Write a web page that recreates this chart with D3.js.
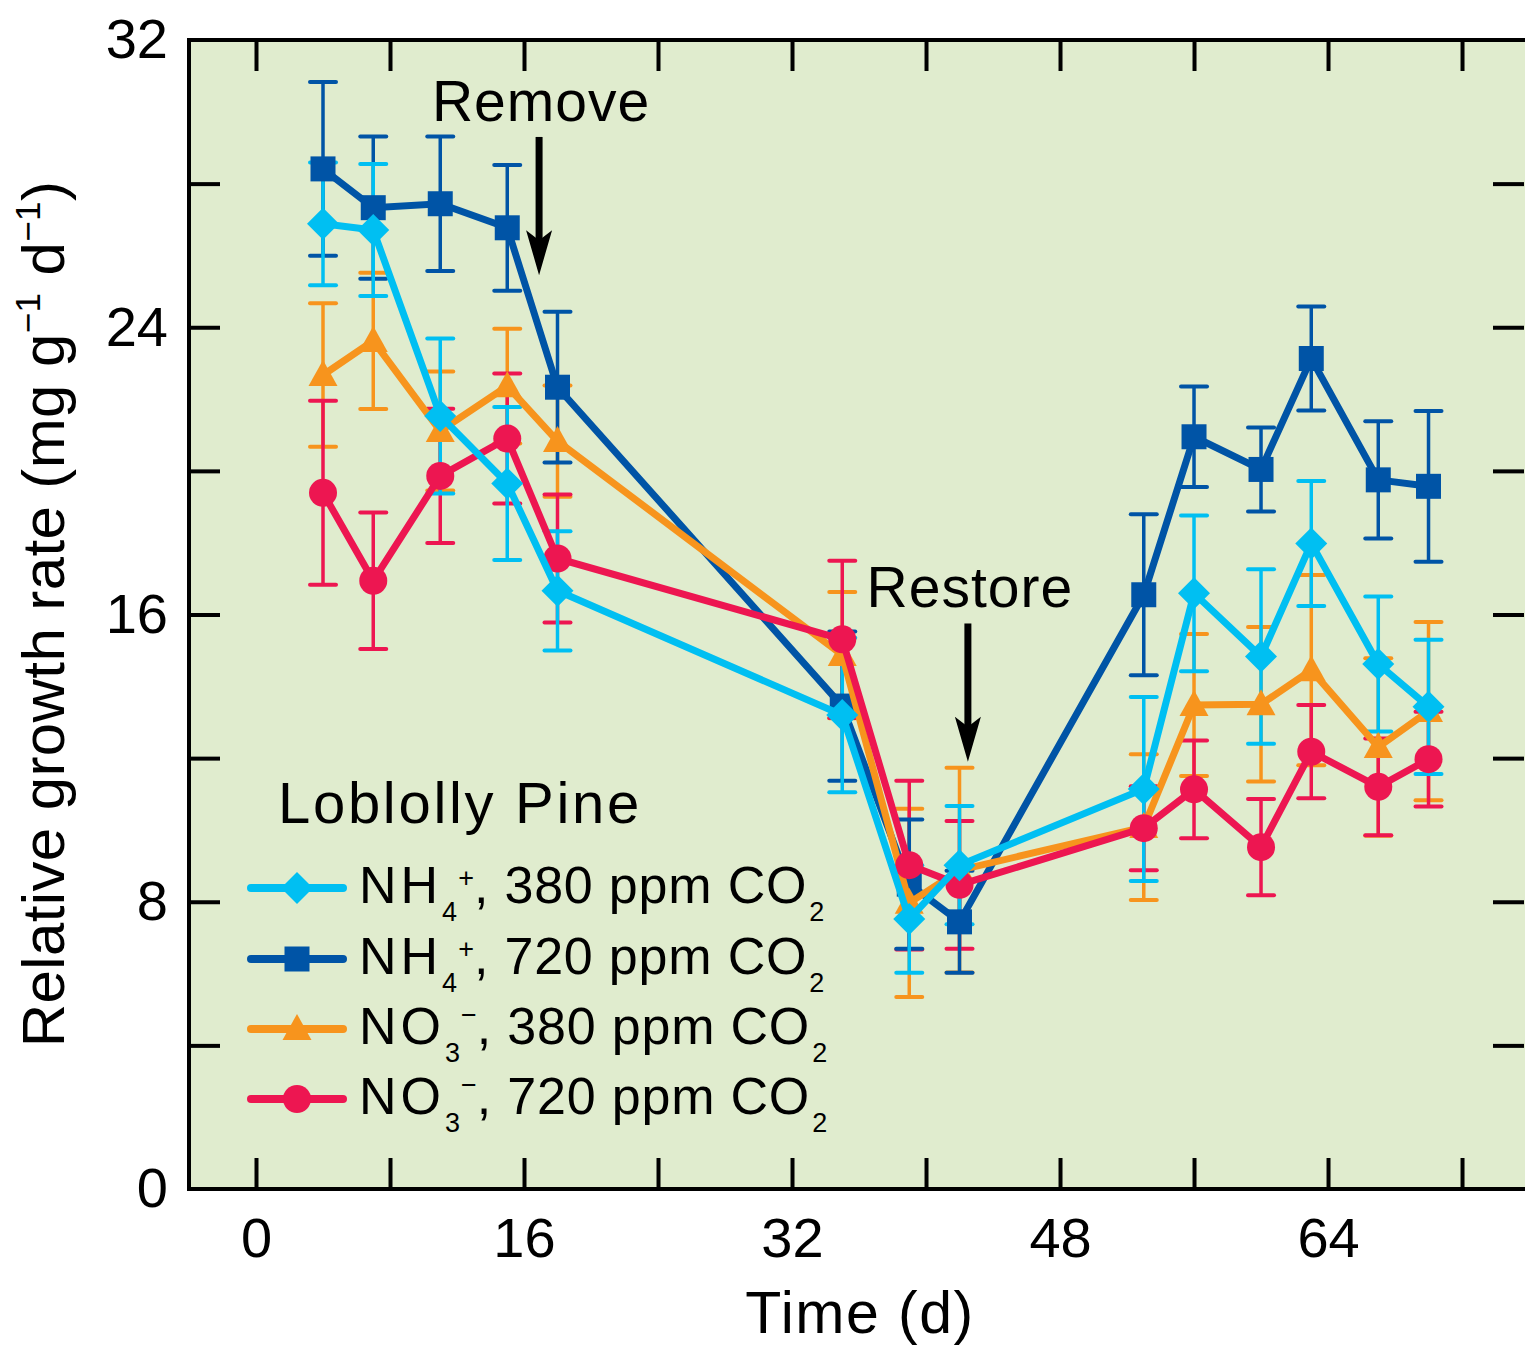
<!DOCTYPE html>
<html>
<head>
<meta charset="utf-8">
<script src="https://cdn.jsdelivr.net/npm/d3@7"></script>
<style>
  html, body { margin: 0; padding: 0; background: #ffffff; }
  svg { display: block; }
  text { font-family: "Liberation Sans", Arial, Helvetica, sans-serif; fill: #000; }
</style>
</head>
<body>
<svg id="chart" width="1525" height="1348"></svg>
<script>
// Sampling days (d)
const days = [4, 7, 11, 15, 18, 35, 39, 42, 53, 56, 60, 63, 67, 70];

// Relative growth rate (mg g-1 d-1), mean and error for each treatment
const nh4Ambient    = [26.88, 26.71, 21.53, 19.65, 16.66, 13.20, 7.52, 9.02, 11.14, 16.59, 14.83, 17.98, 14.62, 13.43];
const nh4AmbientErr = [1.71, 1.84, 2.16, 2.13, 1.66, 2.15, 1.50, 1.65, 2.56, 2.17, 2.43, 1.74, 1.88, 1.87];

const nh4Elevated    = [28.41, 27.33, 27.44, 26.77, 22.33, 13.45, 8.49, 7.44, 16.55, 20.95, 20.04, 23.13, 19.75, 19.57];
const nh4ElevatedErr = [2.42, 1.98, 1.87, 1.75, 2.10, 2.08, 1.80, 1.42, 2.24, 1.40, 1.17, 1.45, 1.63, 2.10];

const no3Ambient    = [22.67, 23.62, 21.11, 22.36, 20.83, 14.87, 7.97, 8.88, 10.08, 13.48, 13.50, 14.45, 12.31, 13.31];
const no3AmbientErr = [2.00, 1.90, 1.66, 1.60, 1.55, 1.76, 2.62, 2.85, 2.03, 1.98, 2.15, 2.65, 2.47, 2.48];

const no3Elevated    = [19.39, 16.94, 19.86, 20.90, 17.56, 15.31, 9.02, 8.47, 10.05, 11.13, 9.52, 12.18, 11.20, 11.97];
const no3ElevatedErr = [2.56, 1.90, 1.87, 1.81, 1.78, 2.19, 2.35, 1.78, 1.17, 1.36, 1.34, 1.30, 1.35, 1.32];

// Axis ticks
const xTicks = [0, 8, 16, 24, 32, 40, 48, 56, 64, 72];
const xTickLabels = [0, 16, 32, 48, 64];
const yTicks = [0, 4, 8, 12, 16, 20, 24, 28, 32];
const yTickLabels = [0, 8, 16, 24, 32];

// Treatment annotations: day, arrow start and arrow tip (growth-rate units)
const annotationLabels = ["Remove", "Restore"];
const annotationDays = [16.9, 42.5];
const annotationFrom = [29.3, 15.75];
const annotationTo = [25.45, 11.9];

const chartTitle = "Loblolly Pine";

const series = [
  { key: "nh4e", ion: "NH", sub: "4", sup: "+", co2: "720", values: nh4Elevated, errors: nh4ElevatedErr, color: "#0054a6", marker: "square" },
  { key: "no3a", ion: "NO", sub: "3", sup: "\u2212", co2: "380", values: no3Ambient, errors: no3AmbientErr, color: "#f7941d", marker: "triangle" },
  { key: "no3e", ion: "NO", sub: "3", sup: "\u2212", co2: "720", values: no3Elevated, errors: no3ElevatedErr, color: "#ed1651", marker: "circle" },
  { key: "nh4a", ion: "NH", sub: "4", sup: "+", co2: "380", values: nh4Ambient, errors: nh4AmbientErr, color: "#00bff2", marker: "diamond" }
];
const legendOrder = ["nh4a", "nh4e", "no3a", "no3e"];

const svg = d3.select("#chart");
const plotLeft = 189, plotRight = 1524, plotTop = 40, plotBottom = 1189;

const x = d3.scaleLinear().domain([-4, 75.7]).range([plotLeft, plotRight]);
const y = d3.scaleLinear().domain([0, 32]).range([plotBottom, plotTop]);

// plot background
svg.append("rect")
  .attr("x", plotLeft).attr("y", plotTop)
  .attr("width", plotRight - plotLeft + 10).attr("height", plotBottom - plotTop)
  .attr("fill", "#e0ecce");

const fontSize = 56;

// axes with inward ticks
const axisStyle = g => {
  g.select(".domain").remove();
  g.selectAll(".tick line").attr("stroke", "#000").attr("stroke-width", 4);
  g.selectAll(".tick text").attr("font-size", fontSize).attr("font-family", "Liberation Sans, Arial, sans-serif").attr("fill", "#000");
};

svg.append("g")
  .attr("transform", `translate(0,${plotBottom})`)
  .call(d3.axisBottom(x).tickValues(xTicks).tickSizeInner(-31).tickSizeOuter(0).tickPadding(28)
    .tickFormat(d => xTickLabels.includes(d) ? d : ""))
  .call(axisStyle);

svg.append("g")
  .attr("transform", `translate(0,${plotTop})`)
  .call(d3.axisTop(x).tickValues(xTicks).tickSizeInner(-31).tickSizeOuter(0).tickFormat(""))
  .call(axisStyle);

svg.append("g")
  .attr("transform", `translate(${plotLeft},0)`)
  .call(d3.axisLeft(y).tickValues(yTicks.filter(v => v > 0 && v < 32)).tickSizeInner(-31).tickSizeOuter(0).tickFormat(""))
  .call(axisStyle);

// y labels (include the ends, which sit on the frame corners)
svg.append("g")
  .attr("transform", `translate(${plotLeft},0)`)
  .call(d3.axisLeft(y).tickValues(yTickLabels).tickSize(0).tickPadding(21))
  .call(axisStyle);

svg.append("g")
  .attr("transform", `translate(${plotRight},0)`)
  .call(d3.axisRight(y).tickValues(yTicks.filter(v => v > 0 && v < 32)).tickSizeInner(-31).tickSizeOuter(0).tickFormat(""))
  .call(axisStyle);

// frame
svg.append("path")
  .attr("d", `M${plotRight + 10},${plotTop}H${plotLeft}V${plotBottom}H${plotRight + 10}`)
  .attr("fill", "none").attr("stroke", "#000").attr("stroke-width", 4);

// axis titles
svg.append("text")
  .attr("x", (x(0) + x(64)) / 2 + 68).attr("y", 1333)
  .attr("text-anchor", "middle")
  .attr("font-size", 59)
  .attr("letter-spacing", 1.5)
  .text("Time (d)");

const yTitle = svg.append("text")
  .attr("transform", `translate(64,${614}) rotate(-90)`)
  .attr("text-anchor", "middle")
  .attr("font-size", 60)
  .attr("letter-spacing", 0.4);
yTitle.append("tspan").text("Relative growth rate (mg g");
yTitle.append("tspan").attr("font-size", 35).attr("dy", -24).text("\u22121");
yTitle.append("tspan").attr("dy", 24).text(" d");
yTitle.append("tspan").attr("font-size", 35).attr("dy", -24).text("\u22121");
yTitle.append("tspan").attr("dy", 24).text(")");

// marker shapes
function markerPath(type) {
  switch (type) {
    case "square": return "M-12.5,-12.5H12.5V12.5H-12.5Z";
    case "diamond": return "M0,-16L16,0L0,16L-16,0Z";
    case "triangle": return "M0,-15L14.5,11L-14.5,11Z";
    default: return d3.symbol(d3.symbolCircle, Math.PI * 14 * 14)();
  }
}

const pointsOf = s => days.map((d, i) => ({ day: d, v: s.values[i], e: s.errors[i] }));

// error bars first
const errOrder = ["no3a", "no3e", "nh4e", "nh4a"];
errOrder.forEach(k => {
  const s = series.find(t => t.key === k);
  const g = svg.append("g").attr("stroke", s.color).attr("stroke-width", 3.5).attr("fill", "none");
  pointsOf(s).forEach(p => {
    const cx = x(p.day), y0 = y(p.v - p.e), y1 = y(p.v + p.e);
    g.append("line").attr("x1", cx).attr("x2", cx).attr("y1", y0).attr("y2", y1);
    g.append("line").attr("x1", cx - 13).attr("x2", cx + 13).attr("y1", y0).attr("y2", y0).attr("stroke-width", 4).attr("stroke-linecap", "round");
    g.append("line").attr("x1", cx - 13).attr("x2", cx + 13).attr("y1", y1).attr("y2", y1).attr("stroke-width", 4).attr("stroke-linecap", "round");
  });
});

// lines and markers
const line = d3.line().x(d => x(d.day)).y(d => y(d.v));
series.forEach(s => {
  const pts = pointsOf(s);
  svg.append("path")
    .attr("d", line(pts))
    .attr("fill", "none")
    .attr("stroke", s.color)
    .attr("stroke-width", 7)
    .attr("stroke-linejoin", "miter");
  svg.append("g").selectAll("path")
    .data(pts).join("path")
    .attr("transform", d => `translate(${x(d.day)},${y(d.v)})`)
    .attr("d", markerPath(s.marker))
    .attr("fill", s.color);
});

// annotations
annotationLabels.forEach((label, i) => {
  const ax = x(annotationDays[i]);
  const y0 = y(annotationFrom[i]), y1 = y(annotationTo[i]);
  svg.append("line")
    .attr("x1", ax).attr("x2", ax).attr("y1", y0).attr("y2", y1 - 30)
    .attr("stroke", "#000").attr("stroke-width", 7);
  svg.append("path")
    .attr("d", `M${ax - 13},${y1 - 45}L${ax},${y1 - 35}L${ax + 13},${y1 - 45}L${ax},${y1}Z`)
    .attr("fill", "#000");
  svg.append("text")
    .attr("x", ax + 2).attr("y", y0 - 16)
    .attr("text-anchor", "middle")
    .attr("font-size", 57)
    .attr("letter-spacing", 1)
    .text(label);
});

// legend
svg.append("text")
  .attr("x", 278).attr("y", 823)
  .attr("font-size", 58)
  .attr("letter-spacing", 2.7)
  .text(chartTitle);

const legendRowY = [888, 959, 1029, 1099];
legendOrder.forEach((k, i) => {
  const s = series.find(t => t.key === k);
  const ly = legendRowY[i];
  svg.append("line")
    .attr("x1", 251).attr("x2", 343).attr("y1", ly).attr("y2", ly)
    .attr("stroke", s.color).attr("stroke-width", 8).attr("stroke-linecap", "round");
  svg.append("path")
    .attr("transform", `translate(297,${ly})`)
    .attr("d", markerPath(s.marker))
    .attr("fill", s.color);
  const supShift = s.sup === "+" ? 34 : 38;
  const t = svg.append("text")
    .attr("x", 359).attr("y", ly + 15)
    .attr("font-size", 52);
  t.append("tspan").attr("letter-spacing", 4).text(s.ion);
  t.append("tspan").attr("font-size", 27).attr("dy", 18).text(s.sub);
  t.append("tspan").attr("font-size", 27).attr("dy", -supShift).attr("dx", 1).text(s.sup);
  t.append("tspan").attr("dy", supShift - 18).attr("letter-spacing", 0.8).text(`, ${s.co2} ppm CO`);
  t.append("tspan").attr("font-size", 27).attr("dy", 18).attr("dx", 2).text("2");
});
</script>
</body>
</html>
